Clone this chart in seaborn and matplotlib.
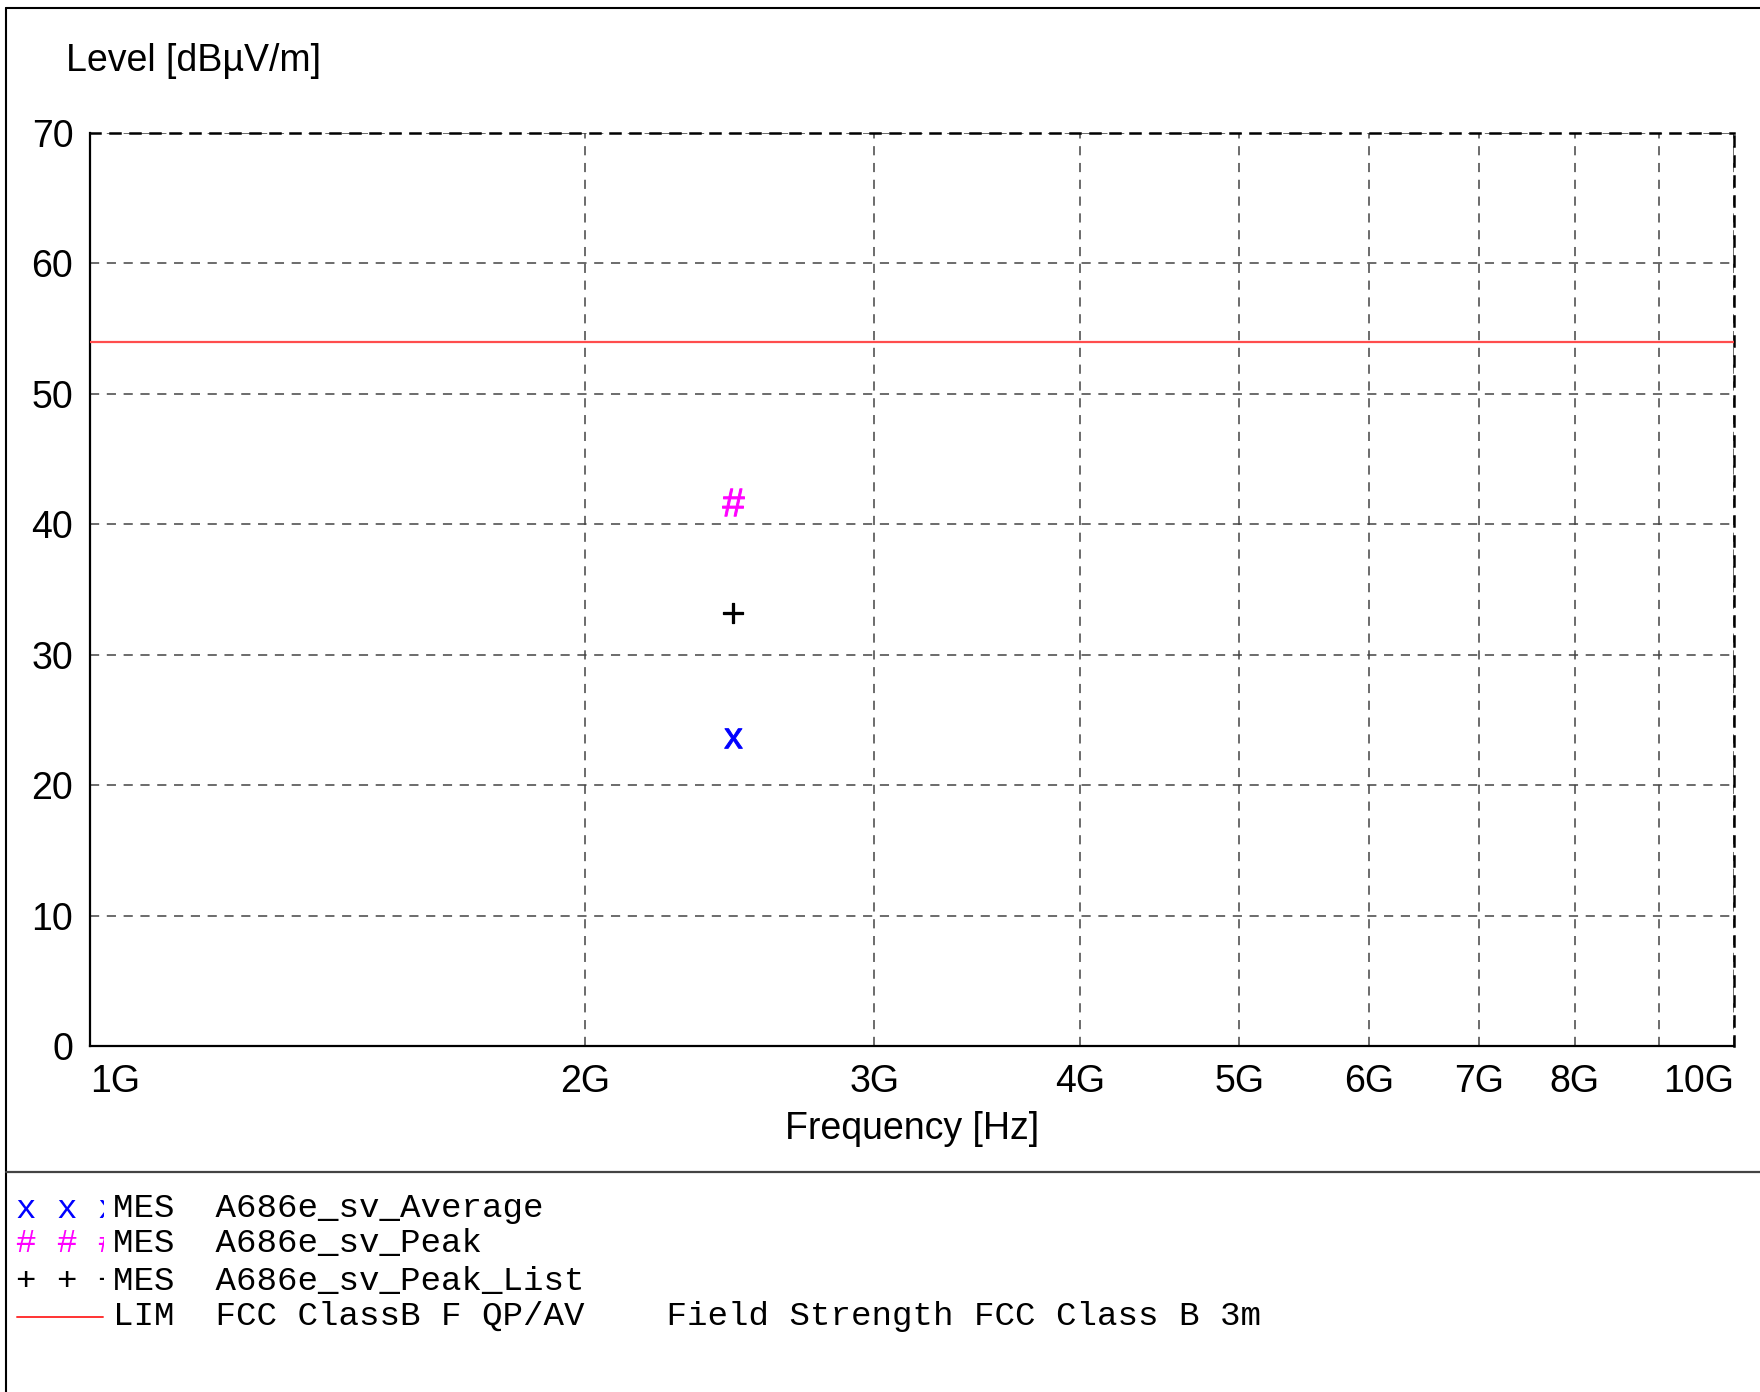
import numpy as np
import pandas as pd
import seaborn as sns
import matplotlib
matplotlib.use("Agg")
import matplotlib.pyplot as plt
from matplotlib.textpath import TextPath
from matplotlib.font_manager import FontProperties
from matplotlib.path import Path
from matplotlib.lines import Line2D
from matplotlib.transforms import Bbox

# ---------------- data ----------------
freq_hz = [2.462e9]
avg_level = [23.6]
peak_level = [41.7]
peak_list_level = [33.2]
limit_freq = [1e9, 1e10]
limit_level = [54, 54]

x_ticks = [1e9, 2e9, 3e9, 4e9, 5e9, 6e9, 7e9, 8e9, 9e9, 1e10]
x_tick_labels = ["1G", "2G", "3G", "4G", "5G", "6G", "7G", "8G", "", "10G"]
y_ticks = [0, 10, 20, 30, 40, 50, 60, 70]

legend_rows = [
    ("x x x", "blue", "MES  A686e_sv_Average"),
    ("# # #", "magenta", "MES  A686e_sv_Peak"),
    ("+ + +", "black", "MES  A686e_sv_Peak_List"),
    (None, "#ff3333", "LIM  FCC ClassB F QP/AV    Field Strength FCC Class B 3m"),
]

# ---------------- style ----------------
sns.set_style("white")
plt.rcParams["font.family"] = ["Liberation Sans", "DejaVu Sans"]
plt.rcParams["text.color"] = "black"
plt.rcParams["xtick.color"] = "black"
plt.rcParams["ytick.color"] = "black"
plt.rcParams["axes.labelcolor"] = "black"

W, H = 1760, 1392
fig = plt.figure(figsize=(W / 100, H / 100), dpi=100)
ax_l, ax_r, ax_t, ax_b = 90, 1734, 133, 1046
ax = fig.add_axes([ax_l / W, 1 - ax_b / H, (ax_r - ax_l) / W, (ax_b - ax_t) / H])


def glyph_marker(ch):
    fp = FontProperties(family="Liberation Sans")
    tp = TextPath((0, 0), ch, size=10, prop=fp)
    v = tp.vertices.copy()
    codes = tp.codes.copy()
    for i, c in enumerate(codes):
        if c == Path.CLOSEPOLY and i > 0:
            v[i] = v[i - 1]
    x0, y0 = v.min(axis=0)
    x1, y1 = v.max(axis=0)
    v[:, 0] -= (x0 + x1) / 2
    v[:, 1] -= (y0 + y1) / 2
    return Path(v, codes)


df_lim = pd.DataFrame({"f": limit_freq, "lvl": limit_level})
sns.lineplot(data=df_lim, x="f", y="lvl", ax=ax, color="#ff4d4d", lw=1.6, zorder=3)

sns.scatterplot(x=freq_hz, y=peak_level, ax=ax, marker=glyph_marker("#"),
                s=390, color="magenta", edgecolor="magenta", linewidth=0.7, zorder=4)
sns.scatterplot(x=freq_hz, y=peak_list_level, ax=ax, marker=glyph_marker("+"),
                s=190, color="black", edgecolor="black", linewidth=0.9, zorder=4)
sns.scatterplot(x=freq_hz, y=avg_level, ax=ax, marker=glyph_marker("x"),
                s=200, color="blue", edgecolor="blue", linewidth=0.7, zorder=4)

ax.set_xscale("log")
ax.set_xlim(1e9, 1e10)
ax.set_ylim(0, 70)
ax.set_xticks(x_ticks)
ax.set_xticklabels(x_tick_labels)
ax.xaxis.set_minor_locator(matplotlib.ticker.NullLocator())
ax.set_yticks(y_ticks)
ax.set_yticklabels([str(v) for v in y_ticks])
ax.tick_params(axis="x", length=0, pad=13, labelsize=27, labelcolor="black")
ax.tick_params(axis="y", length=0, pad=12, labelsize=27, labelcolor="black")
xl = ax.get_xticklabels()
xl[0].set_horizontalalignment("left")
xl[-1].set_horizontalalignment("right")
ax.set_xlabel("")
ax.set_ylabel("")

ax.grid(True, which="major", color="#444444", linestyle=(0, (6, 5)), linewidth=1.1)
for s in ["left", "bottom"]:
    ax.spines[s].set_color("black")
    ax.spines[s].set_linewidth(1.6)
for s in ["top", "right"]:
    ax.spines[s].set_color("black")
    ax.spines[s].set_linewidth(1.8)
    ax.spines[s].set_linestyle((0, (4, 4)))

fig.text(66 / W, 1 - 61 / H, "Level [dBµV/m]", fontsize=27, ha="left", va="center",
         color="black")
fig.text((ax_l + ax_r) / 2 / W, 1 - 1129 / H, "Frequency [Hz]", fontsize=27,
         ha="center", va="center", color="black")

# figure frame lines
fig.add_artist(Line2D([6 / W, 1], [1 - 8 / H, 1 - 8 / H], color="black", lw=1.5,
                      transform=fig.transFigure))
fig.add_artist(Line2D([6 / W, 6 / W], [0, 1 - 8 / H], color="black", lw=1.5,
                      transform=fig.transFigure))
fig.add_artist(Line2D([6 / W, 1], [1 - 1172 / H, 1 - 1172 / H], color="#444444", lw=1.6,
                      transform=fig.transFigure))

# legend block
row_y = [1209, 1244, 1281, 1317]
clip = Bbox.from_extents(0, 0, 104, H)
for (mk, col, txt), yy in zip(legend_rows, row_y):
    yf = 1 - yy / H
    if mk is None:
        fig.add_artist(Line2D([17 / W, 103 / W], [yf, yf], color=col, lw=1.4,
                              transform=fig.transFigure))
    else:
        t = fig.text(16 / W, yf, mk, fontsize=24.6, family="Liberation Mono",
                     color=col, ha="left", va="center")
        t.set_clip_box(clip)
        t.set_clip_on(True)
    fig.text(113 / W, yf, txt, fontsize=24.6, family="Liberation Mono",
             color="black", ha="left", va="center")

fig.savefig("out.png", dpi=100)
